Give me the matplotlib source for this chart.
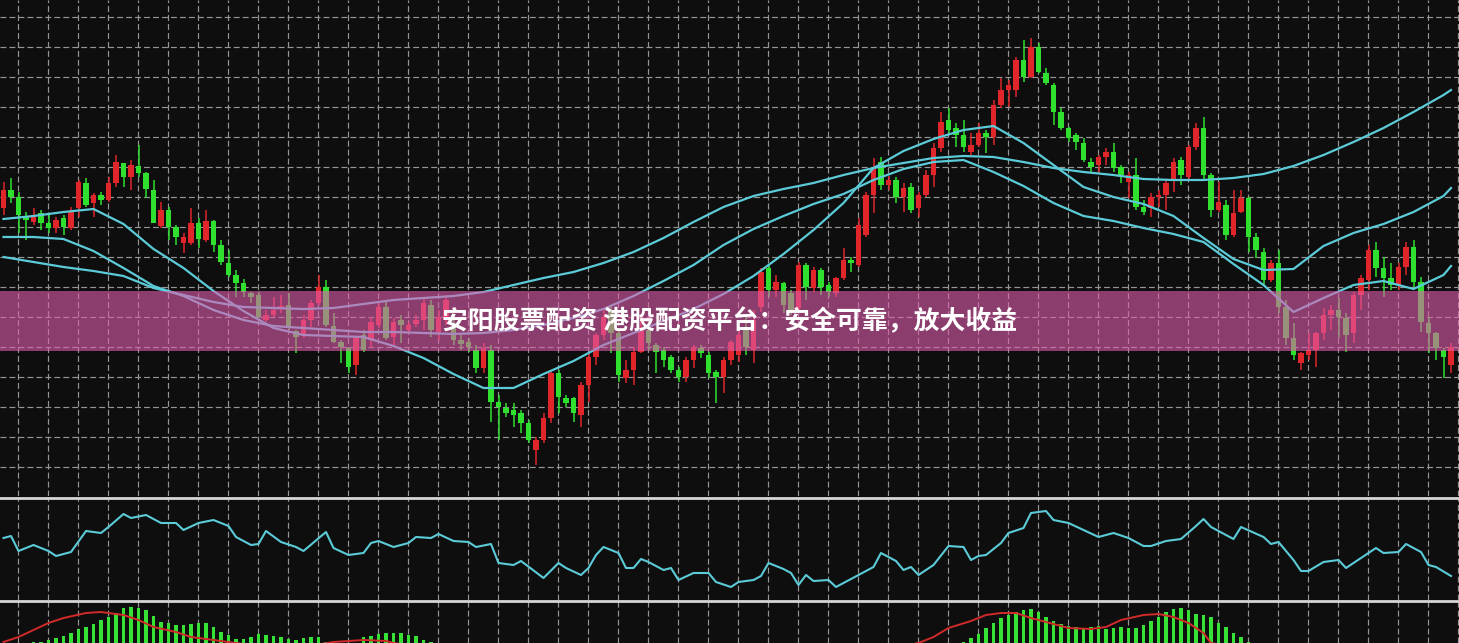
"""Candlestick chart with three moving averages, an oscillator and a MACD strip."""
import matplotlib
matplotlib.use("Agg")
import matplotlib.pyplot as plt
import numpy as np
from matplotlib.lines import Line2D
from matplotlib.patches import Rectangle

BANNER_TEXT = "安阳股票配资 港股配资平台：安全可靠，放大收益"

OPENS = [
    292, 310, 303, 284, 278, 287, 277, 272, 282, 272,
    292, 317, 297, 305, 300, 317, 337, 323, 334, 327,
    310, 274, 290, 273, 257, 257, 277, 260, 279, 255,
    237, 225, 217, 207, 205, 180, 185, 191, 195, 169,
    165, 180, 197, 213, 174, 158, 152, 135, 165, 160,
    175, 193, 163, 180, 170, 176, 180, 195, 168, 180,
    173, 160, 158, 150, 132, 150, 98, 92, 90, 87,
    77, 50, 60, 82, 127, 102, 102, 85, 115, 143,
    165, 190, 167, 122, 130, 148, 170, 155, 150, 143,
    130, 123, 140, 152, 145, 128, 123, 140, 145, 173,
    150, 193, 232, 210, 217, 207, 192, 235, 212, 230,
    215, 207, 222, 240, 235, 265, 305, 338, 315, 320,
    303, 313, 292, 305, 325, 352, 380, 372, 365, 348,
    355, 367, 363, 395, 410, 410, 440, 423, 453, 427,
    415, 388, 372, 365, 357, 338, 335, 343, 348, 333,
    318, 325, 293, 292, 303, 305, 320, 340, 323, 353,
    372, 325, 290, 295, 265, 288, 302, 263, 248, 220,
    237, 193, 162, 137, 145, 150, 167, 185, 190, 182,
    167, 205, 220, 250, 232, 222, 215, 233, 253, 218,
    177, 167, 150, 135,
]
HIGHS = [
    318, 322, 308, 288, 292, 290, 285, 283, 285, 293,
    320, 322, 307, 308, 323, 345, 337, 340, 355, 328,
    320, 298, 293, 275, 267, 292, 282, 290, 280, 260,
    250, 230, 221, 208, 208, 190, 203, 205, 207, 170,
    185, 200, 225, 220, 187, 160, 153, 163, 170, 183,
    197, 198, 182, 185, 178, 185, 201, 200, 190, 205,
    180, 165, 162, 155, 157, 155, 105, 97, 97, 90,
    80, 63, 87, 130, 130, 105, 103, 118, 147, 167,
    190, 193, 170, 140, 153, 183, 175, 157, 153, 145,
    133, 143, 155, 155, 148, 130, 143, 160, 172, 185,
    190, 232, 235, 225, 218, 210, 238, 237, 233, 232,
    218, 223, 252, 243, 282, 308, 342, 343, 324, 323,
    317, 317, 308, 330, 357, 388, 392, 377, 380, 367,
    377, 370, 400, 422, 420, 443, 460, 462, 457, 432,
    417, 392, 373, 367, 362, 342, 345, 352, 357, 335,
    328, 342, 300, 307, 310, 320, 342, 343, 355, 377,
    383, 327, 318, 300, 310, 310, 303, 267, 252, 240,
    250, 200, 177, 148, 167, 168, 192, 195, 202, 187,
    208, 225, 255, 258, 243, 237, 237, 258, 260, 223,
    183, 168, 152, 157,
]
LOWS = [
    285, 297, 267, 260, 275, 270, 267, 267, 265, 270,
    283, 293, 283, 295, 298, 313, 313, 310, 323, 302,
    277, 272, 260, 255, 247, 255, 252, 258, 248, 235,
    223, 203, 203, 197, 182, 178, 183, 187, 170, 147,
    162, 173, 195, 173, 157, 137, 127, 125, 148, 152,
    172, 160, 155, 157, 168, 173, 170, 163, 160, 175,
    155, 150, 148, 127, 127, 78, 60, 83, 73, 67,
    57, 35, 57, 77, 87, 93, 78, 73, 98, 135,
    160, 147, 118, 117, 115, 147, 150, 127, 133, 127,
    118, 118, 132, 142, 122, 97, 107, 135, 138, 145,
    137, 188, 203, 203, 187, 185, 188, 200, 208, 205,
    203, 203, 220, 228, 233, 263, 287, 310, 310, 297,
    288, 287, 283, 303, 313, 348, 367, 353, 348, 345,
    353, 347, 355, 392, 393, 403, 418, 422, 427, 415,
    375, 370, 358, 350, 338, 328, 327, 335, 328, 317,
    302, 290, 285, 283, 293, 290, 308, 315, 320, 350,
    320, 283, 288, 260, 263, 287, 248, 242, 215, 218,
    187, 155, 140, 130, 140, 133, 160, 170, 162, 148,
    157, 190, 210, 223, 203, 210, 210, 225, 213, 168,
    147, 140, 122, 127,
]
CLOSES = [
    310, 303, 285, 280, 285, 277, 272, 280, 273, 288,
    318, 295, 305, 300, 317, 338, 323, 335, 327, 311,
    277, 290, 273, 263, 263, 277, 261, 279, 255, 238,
    225, 217, 208, 203, 183, 185, 190, 194, 172, 163,
    180, 197, 213, 175, 158, 153, 133, 162, 150, 178,
    193, 162, 178, 175, 175, 180, 197, 170, 183, 200,
    160, 156, 153, 132, 152, 98, 93, 87, 85, 77,
    60, 60, 82, 127, 103, 97, 87, 115, 143, 165,
    183, 167, 125, 130, 148, 170, 157, 148, 140, 130,
    123, 140, 153, 147, 127, 123, 140, 158, 165, 153,
    180, 228, 210, 218, 195, 190, 235, 213, 230, 213,
    208, 222, 240, 237, 275, 305, 333, 315, 320, 303,
    312, 290, 305, 325, 352, 378, 370, 365, 353, 355,
    367, 363, 395, 410, 415, 440, 423, 453, 428, 417,
    388, 372, 362, 358, 340, 333, 343, 348, 332, 325,
    325, 293, 288, 303, 305, 317, 338, 325, 353, 372,
    325, 290, 298, 265, 287, 302, 263, 250, 220, 237,
    193, 162, 145, 147, 150, 167, 185, 190, 183, 165,
    205, 222, 250, 232, 222, 215, 233, 253, 218, 178,
    167, 152, 143, 153,
]

# moving averages, read every fourth bar
MA_BARS = list(range(0, 193, 4)) + [193]
MA_FAST = [
    281, 284, 288, 291, 276, 251, 232, 209, 189, 172,
    165, 164, 163, 154, 142, 126, 112, 112, 126, 139,
    155, 167, 179, 191, 206, 224, 246, 270, 297, 332,
    349, 361, 370, 374, 357, 335, 313, 303, 296, 284,
    262, 241, 230, 231, 254, 267, 276, 288, 304, 312,
]
MA_MID = [
    263, 263, 261, 249, 232, 214, 204, 190, 180, 174,
    172, 170, 168, 168, 167, 166, 167, 170, 175, 182,
    191, 204, 219, 235, 255, 271, 284, 296, 306, 320,
    331, 338, 340, 328, 314, 297, 284, 279, 272, 266,
    258, 236, 215, 188, 202, 215, 219, 211, 225, 234,
]
MA_SLOW = [
    243, 238, 233, 229, 224, 212, 205, 198, 193, 192,
    191, 192, 196, 200, 202, 204, 208, 215, 222, 228,
    237, 248, 262, 278, 293, 304, 311, 317, 325, 332,
    337, 342, 344, 343, 338, 332, 328, 325, 321, 320,
    320, 322, 326, 334, 345, 358, 372, 388, 405, 410,
]

OSC_BARS = [
    0, 1, 2, 4, 6, 7, 9, 11, 13, 14, 16, 17, 19, 21, 23, 24, 26, 28, 30, 31,
    33, 34, 35, 37, 39, 40, 43, 44, 46, 48, 49, 50, 52, 54, 55, 57, 58, 60,
    62, 63, 65, 66, 68, 69, 72, 74, 75, 77, 78, 79, 80, 82, 83, 84, 85, 86,
    88, 89, 90, 92, 94, 95, 97, 98, 100, 101, 102, 104, 105, 106, 107, 108,
    110, 111, 113, 114, 116, 117, 119, 120, 121, 122, 124, 126, 128, 129,
    130, 131, 133, 134, 136, 137, 139, 140, 142, 144, 146, 148, 150, 152,
    153, 155, 157, 159, 160, 161, 162, 164, 165, 168, 169, 170, 172, 173,
    174, 176, 178, 179, 181, 183, 184, 186, 187, 189, 190, 191, 193,
]
OSC_VALUES = [
    62, 64, 49, 55, 49, 44, 48, 69, 67, 73, 86, 82, 85, 77, 77, 70, 77, 80, 74, 63,
    55, 56, 69, 58, 53, 49, 68, 52, 45, 47, 57, 59, 53, 57, 63, 62, 66, 59,
    58, 53, 56, 37, 35, 39, 22, 37, 32, 25, 32, 45, 53, 47, 32, 32, 41, 38,
    30, 32, 20, 27, 27, 18, 13, 18, 20, 24, 37, 31, 27, 15, 25, 19,
    20, 13, 21, 25, 33, 47, 39, 30, 33, 25, 35, 54, 53, 40,
    44, 45, 57, 67, 72, 87, 89, 80, 77, 70, 63, 67, 62, 54,
    54, 59, 61, 74, 81, 73, 69, 61, 73, 63, 56, 58, 40, 29,
    29, 38, 40, 32, 42, 52, 47, 48, 56, 48, 35, 33, 24,
]

HIST_BARS = (list(range(4, 44)) + list(range(48, 58))
             + list(range(128, 167)))
HIST_VALUES = [
    1, 1, 3, 5, 7, 10, 14, 16, 19, 23, 26, 30, 35, 36, 35, 33, 27, 21, 20, 18,
    18, 19, 20, 20, 16, 11, 8, 4, 4, 6, 9, 8, 7, 6, 4, 3, 5, 6, 6, 1,
    6, 7, 9, 10, 10, 10, 8, 7, 3, 1,
    1, 5, 9, 15, 20, 25, 28, 31, 33, 34, 31, 26, 22, 19, 17, 16, 15, 16, 17,
    14, 15, 16, 15, 15, 18, 22, 26, 31, 34, 35, 33, 29, 28, 26, 20, 16, 10,
    6, 1,
]
SIGNAL_BARS = [
    0, 2, 4, 6, 8, 11, 13, 14, 16, 18, 20, 23, 25, 28, 30, 34, 40, 44, 46,
    48, 51, 52, 56, 120, 122, 124, 126, 129, 131, 133, 135, 137, 140, 142,
    145, 147, 149, 152, 154, 156, 158, 160, 161, 164, 193,
]
SIGNAL_VALUES = [
    1, 6, 13, 20, 25, 30, 31, 30, 28, 23, 16, 11, 6, 3, 1, -3, -4, 1, 2,
    3, 2, 0, -4, -3, 0, 6, 15, 22, 28, 30, 30, 25, 19, 15,
    14, 16, 23, 28, 29, 26, 20, 10, 0, -4, -6,
]

W, H = 1459, 643
BG = "#0e0e0e"
UP = "#e0252b"
DOWN = "#2fe02f"
MA_COLOR = "#5ccbd8"
GRID = "#959595"
XLIM = (-3.5 / 7.5, (W - 3.5) / 7.5)
GRID_X = np.arange(1.933, 194.1, 4)
DASH = (0, (5, 2.6))


def _panel(fig, top_px, bottom_px, ylim):
    ax = fig.add_axes([0, 1 - bottom_px / H, 1, (bottom_px - top_px) / H])
    ax.set_facecolor(BG)
    ax.set_xlim(*XLIM)
    ax.set_ylim(*ylim)
    for s in ax.spines.values():
        s.set_visible(False)
    ax.set_xticks(GRID_X)
    ax.set_yticks([])
    ax.tick_params(length=0, labelbottom=False, labelleft=False)
    ax.grid(axis="x", color=GRID, linestyle=DASH, linewidth=0.85)
    ax.set_axisbelow(True)
    return ax


def _candles(ax):
    idx = np.arange(len(OPENS))
    o = np.array(OPENS, float)
    c = np.array(CLOSES, float)
    colors = [UP if cc >= oo else DOWN for oo, cc in zip(o, c)]
    ax.vlines(idx, LOWS, HIGHS, colors=colors, linewidth=1.1, zorder=2)
    height = np.maximum(np.abs(c - o), 1.5)
    ax.bar(idx, height, bottom=np.minimum(o, c), width=0.7,
           color=colors, zorder=3)


def main():
    fig = plt.figure(figsize=(W / 100, H / 100), dpi=100, facecolor=BG)

    ax = _panel(fig, 0, 496, (4, 500))
    ax.set_yticks(np.arange(33, 484, 30))
    ax.grid(axis="y", color=GRID, linestyle=DASH, linewidth=0.85)
    _candles(ax)
    for vals in (MA_SLOW, MA_MID, MA_FAST):
        ax.plot(MA_BARS, vals, color=MA_COLOR, lw=1.6, zorder=4)

    osc = _panel(fig, 499, 600, (0, 101))
    osc.plot(OSC_BARS, OSC_VALUES, color=MA_COLOR, lw=1.5, zorder=3)

    macd = _panel(fig, 602, 643, (0, 41))
    macd.bar(HIST_BARS, HIST_VALUES, width=0.48, color="#36e236", zorder=2)
    macd.plot(SIGNAL_BARS, SIGNAL_VALUES, color="#d22a2a", lw=1.4, zorder=3)

    for y in (497.5, 601):
        fig.add_artist(Line2D([0, 1], [1 - y / H] * 2, transform=fig.transFigure,
                              color="#d6d6d6", lw=2.0, zorder=6))

    fig.add_artist(Rectangle((0, 1 - 351 / H), 1, 60 / H, transform=fig.transFigure,
                             facecolor=(0.88, 0.37, 0.68), alpha=0.6,
                             edgecolor="none", zorder=10))
    fig.text(0.5, 1 - 322 / H, BANNER_TEXT, ha="center", va="center",
             color="white", fontsize=18.6, fontweight="bold",
             family=["Noto Sans CJK SC", "DejaVu Sans"], zorder=11)

    fig.savefig("out.png", dpi=100, facecolor=BG)


if __name__ == "__main__":
    main()
